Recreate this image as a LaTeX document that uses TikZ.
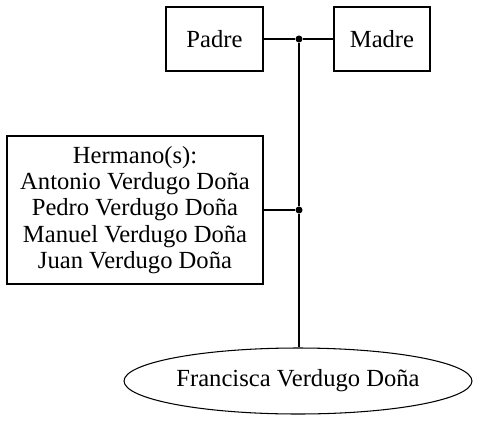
\documentclass[tikz,border=0pt]{standalone}
\usepackage{fontspec}
\setmainfont{Liberation Serif}
\usetikzlibrary{shapes.geometric}

\begin{document}
\begin{tikzpicture}[
   x = 0.02cm, y = -0.02cm,
   line width = 0.6pt,
   every node/.style = {font=\fontsize{14}{15}\selectfont},
persona/.style = {draw, rectangle, inner sep=0pt},
hija/.style    = {draw, ellipse, inner sep=0pt},
punto/.style   = {circle, fill, inner sep=0pt, minimum size=4pt}
                    ]
\useasboundingbox (0,0) rectangle (480,420);
% padres
    \node[persona, minimum width=1.94cm, minimum height=1.28cm] (padre) at (214.5,39) {Padre};
    \node[persona, minimum width=1.92cm, minimum height=1.28cm] (madre) at (382,39) {Madre};
% hermanos
    \node[persona, minimum width=5.12cm, minimum height=2.96cm, align=center] (hermanos) at (135,210)
        {Hermano(s):\\Antonio Verdugo Doña\\Pedro Verdugo Doña\\Manuel Verdugo Doña\\Juan Verdugo Doña};
% hija
    \node[hija, minimum width=6.96cm, minimum height=1.32cm] (francisca) at (298,381) {Francisca Verdugo Doña};
% uniones
    \node[punto] (union) at (299,39) {};
    \node[punto] (rama) at (299,210) {};
    \draw (padre) -- (union) -- (madre);
    \draw (hermanos) -- (rama);
    \draw (union) -- (rama) -- (rama |- francisca.north);
\end{tikzpicture}
\end{document}
